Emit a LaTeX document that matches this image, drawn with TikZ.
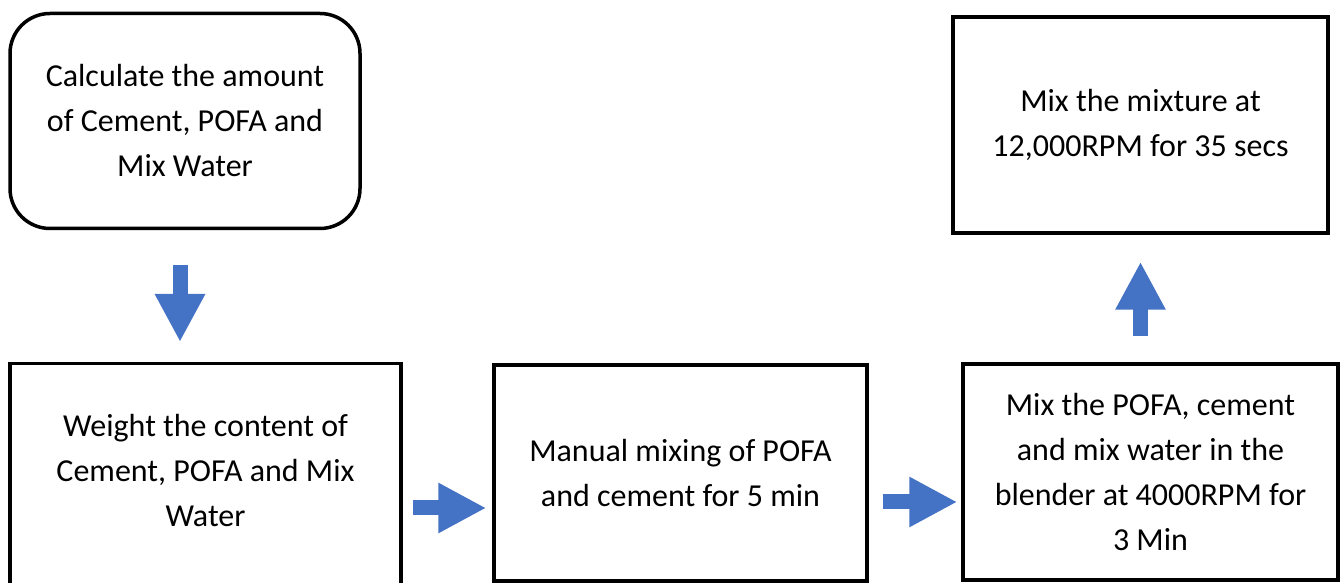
\documentclass[tikz,border=0pt]{standalone}
\usepackage{fontspec}
\setmainfont{Carlito}
\usetikzlibrary{arrows.meta}
\definecolor{officeblue}{HTML}{4472C4}
\tikzset{
	stepbox/.style={draw=black,line width=3.5pt,minimum width=375pt,minimum height=216pt,align=center,font=\fontsize{32pt}{45pt}\selectfont},
	flow/.style={officeblue,line width=15pt,-{Triangle[width=47pt,length=48pt]}}
}
\begin{document}
	        	\begin{tikzpicture}[x=1pt,y=1pt]
	        	\useasboundingbox (0,0) rectangle (1341,583);
	        	\node[stepbox,rounded corners=40pt,minimum width=350pt,minimum height=215pt] (calc) at (185,462) {Calculate the amount\\of Cement, POFA and\\Mix Water};
	        	\node[stepbox,minimum width=391pt,minimum height=260pt,anchor=north] (weighbox) at (205.5,221) {};
	        	\node[align=center,font=\fontsize{32pt}{45pt}\selectfont] (weigh) at (205.5,112) {Weight the content of\\Cement, POFA and Mix\\Water};
	        	\node[stepbox,minimum width=373pt] (manual) at (680.5,110) {Manual mixing of POFA\\and cement for 5 min};
	        	\node[stepbox] (blend) at (1150.5,111) {Mix the POFA, cement\\and mix water in the\\blender at 4000RPM for\\3 Min};
	        	\node[stepbox] (mixture) at (1140.5,458) {Mix the mixture at\\12,000RPM for 35 secs};
	        	\draw[flow,shorten <=35pt,shorten >=20pt] ([xshift=-5pt]calc.south) -- ([xshift=-5pt]calc.south |- weighbox.north);
	        	\draw[flow,shorten <=10pt,shorten >=6pt] ([yshift=-35pt]manual.west -| weighbox.east) -- ([yshift=-35pt]manual.west);
	        	\draw[flow,shorten <=14pt,shorten >=4pt] ([yshift=-30pt]blend.west -| manual.east) -- ([yshift=-30pt]blend.west);
	        	\draw[flow,shorten <=26pt,shorten >=27pt] (mixture.south |- blend.north) -- (mixture.south);
	        	\end{tikzpicture}
\end{document}
